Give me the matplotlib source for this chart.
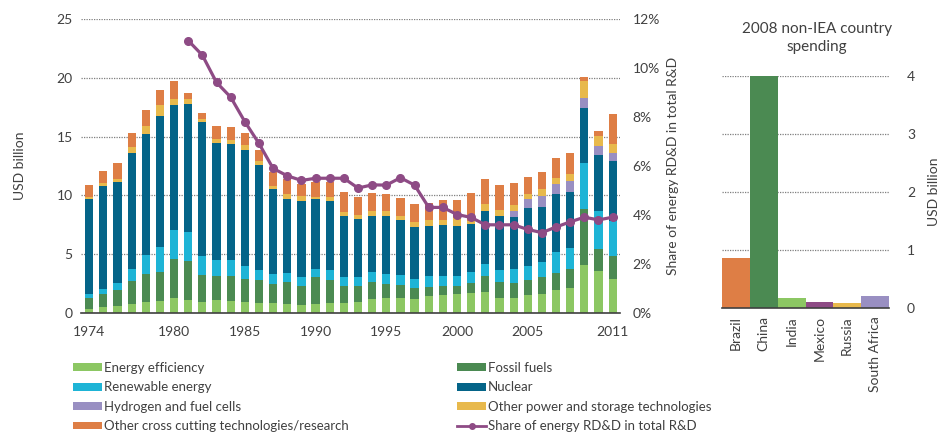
import numpy as np
import matplotlib
matplotlib.use("Agg")
import matplotlib.pyplot as plt
from matplotlib.patches import Patch
from matplotlib.lines import Line2D

plt.rcParams['font.family'] = ['Lato', 'DejaVu Sans']

years = list(range(1974, 2012))
energy_eff = [0.37, 0.51, 0.62, 0.77, 0.91, 0.99, 1.28, 1.08, 0.91, 1.08, 1.02, 0.97, 0.85, 0.85,
              0.74, 0.65, 0.74, 0.85, 0.85, 0.91, 1.22, 1.28, 1.28, 1.19, 1.42, 1.53, 1.59, 1.70,
              1.76, 1.31, 1.31, 1.53, 1.65, 1.93, 2.16, 4.06, 3.58, 2.90]
fossil = [0.91, 1.08, 1.34, 1.93, 2.41, 2.50, 3.29, 3.32, 2.30, 2.07, 2.11, 1.90, 1.93, 1.65,
          1.87, 1.68, 2.30, 1.99, 1.42, 1.36, 1.42, 1.22, 1.13, 0.94, 0.80, 0.77, 0.71, 0.86,
          1.42, 1.33, 1.25, 1.25, 1.42, 1.48, 1.62, 4.75, 1.82, 1.93]
renewable = [0.37, 0.43, 0.60, 1.08, 1.59, 2.14, 2.53, 2.45, 1.62, 1.34, 1.36, 1.11, 0.86, 0.80,
             0.80, 0.74, 0.74, 0.80, 0.80, 0.80, 0.85, 0.85, 0.80, 0.80, 0.91, 0.88, 0.83, 0.93,
             0.97, 1.00, 1.22, 1.22, 1.25, 1.79, 1.76, 3.92, 3.29, 3.01]
nuclear = [8.01, 8.78, 8.54, 9.82, 10.29, 11.16, 10.57, 10.93, 11.39, 9.94, 9.91, 9.91, 8.92, 7.21,
           6.31, 6.45, 5.94, 5.88, 5.17, 4.94, 4.75, 4.89, 4.69, 4.40, 4.28, 4.32, 4.31, 4.12,
           4.54, 4.60, 4.37, 4.89, 4.71, 4.91, 4.77, 4.74, 4.75, 5.09]
hydrogen = [0, 0, 0, 0, 0, 0, 0, 0, 0, 0, 0, 0, 0, 0,
            0, 0, 0, 0, 0, 0, 0, 0, 0, 0, 0, 0, 0, 0,
            0, 0, 0.51, 0.80, 0.91, 0.86, 0.91, 0.85, 0.76, 0.65]
other_power = [0.23, 0.22, 0.30, 0.55, 0.68, 0.91, 0.53, 0.40, 0.31, 0.40, 0.34, 0.40, 0.34, 0.31,
               0.39, 0.39, 0.17, 0.31, 0.31, 0.29, 0.45, 0.40, 0.34, 0.45, 0.49, 0.45, 0.60, 0.23,
               0.57, 0.51, 0.52, 0.45, 0.57, 0.48, 0.60, 1.45, 0.86, 0.80]
cross_cutting = [0.99, 1.05, 1.38, 1.19, 1.39, 1.28, 1.54, 0.51, 0.46, 1.05, 1.06, 1.02, 0.99, 1.14,
                 1.25, 1.06, 1.27, 1.33, 1.73, 1.59, 1.48, 1.47, 1.50, 1.48, 1.48, 1.65, 1.56, 2.33,
                 2.10, 2.13, 1.90, 1.45, 1.48, 1.70, 1.76, 0.34, 0.42, 2.52]
share_years = list(range(1981, 2012))
share_pct = [11.12, 10.52, 9.41, 8.81, 7.81, 6.92, 5.90, 5.60, 5.41, 5.50, 5.50, 5.50, 5.10, 5.23,
             5.22, 5.52, 5.22, 4.31, 4.31, 4.02, 3.90, 3.60, 3.60, 3.60, 3.41, 3.28, 3.51, 3.72,
             3.91, 3.80, 3.91]
xtick_years = [1974, 1980, 1985, 1990, 1995, 2000, 2005, 2011]

countries = ["Brazil", "China", "India", "Mexico", "Russia", "South Africa"]
country_spend = [0.86, 4.0, 0.18, 0.10, 0.08, 0.21]

series = [
    ("Energy efficiency", energy_eff, "#8CC763"),
    ("Fossil fuels", fossil, "#4B8A52"),
    ("Renewable energy", renewable, "#1EB4D6"),
    ("Nuclear", nuclear, "#046488"),
    ("Hydrogen and fuel cells", hydrogen, "#998FC2"),
    ("Other power and storage technologies", other_power, "#E8B94C"),
    ("Other cross cutting technologies/research", cross_cutting, "#DE7E45"),
]
country_colors = ["#DE7E45", "#4B8A52", "#8CC763", "#8E4B85", "#E8B94C", "#998FC2"]
line_color = "#8E4B85"
grid_color = "#7F7F7F"
text_color = "#404040"

W, H = 941, 438
fig = plt.figure(figsize=(W / 100, H / 100), dpi=100)

def ax_rect(x0, y0, x1, y1):
    return [x0 / W, 1 - y1 / H, (x1 - x0) / W, (y1 - y0) / H]

ax = fig.add_axes(ax_rect(81, 19, 620, 313))
x = np.arange(len(years))
bottom = np.zeros(len(years))
handles = {}
for name, vals, col in series:
    v = np.array(vals)
    ax.bar(x, v, 0.58, bottom=bottom, color=col, linewidth=0, zorder=2)
    handles[name] = Patch(facecolor=col)
    bottom += v
ax.set_xlim(-0.58, len(years) - 0.48)
ax.set_ylim(0, 25)
ax.set_yticks([0, 5, 10, 15, 20, 25])
ax.set_xticks([years.index(y) for y in xtick_years])
ax.set_xticklabels([str(y) for y in xtick_years])
for s in ["top", "right", "left"]:
    ax.spines[s].set_visible(False)
ax.spines["bottom"].set_color("#404040")
ax.spines["bottom"].set_linewidth(1.2)
ax.tick_params(axis="both", length=0, labelsize=10, colors=text_color, pad=6)
ax.tick_params(axis="x", pad=9)
ax.yaxis.grid(True, linestyle=(0, (1, 1)), color=grid_color, linewidth=0.9, zorder=0)
ax.set_axisbelow(True)
ax.set_ylabel("USD billion", fontsize=10, color=text_color, labelpad=22)

ax2 = ax.twinx()
ax2.set_ylim(0, 12)
ax2.set_yticks([0, 2, 4, 6, 8, 10, 12])
ax2.set_yticklabels([f"{v}%" for v in [0, 2, 4, 6, 8, 10, 12]])
for s in ["top", "right", "left", "bottom"]:
    ax2.spines[s].set_visible(False)
ax2.tick_params(axis="y", length=0, labelsize=10, colors=text_color, pad=9)
sx = [years.index(y) for y in share_years]
ax2.plot(sx, share_pct, color=line_color, linewidth=2.3, marker="o", markersize=5.5, zorder=5)
ax2.set_ylabel("Share of energy RD&D in total R&D", fontsize=10, color=text_color, labelpad=5)

# right chart
axr = fig.add_axes(ax_rect(722, 76, 889, 308))
xc = np.arange(len(countries))
axr.bar(xc, country_spend, 1.0, color=country_colors, linewidth=0, zorder=2)
axr.set_xlim(-0.5, len(countries) - 0.5)
axr.set_ylim(0, 4)
axr.set_yticks([0, 1, 2, 3, 4])
axr.yaxis.tick_right()
axr.yaxis.set_label_position("right")
axr.set_xticks(xc)
axr.set_xticklabels(countries, rotation=90)
for s in ["top", "right", "left"]:
    axr.spines[s].set_visible(False)
axr.spines["bottom"].set_color("#404040")
axr.spines["bottom"].set_linewidth(1.2)
axr.tick_params(axis="both", length=0, labelsize=10, colors=text_color)
axr.tick_params(axis="y", pad=13)
axr.tick_params(axis="x", pad=6)
axr.yaxis.grid(True, linestyle=(0, (1, 1)), color=grid_color, linewidth=0.9, zorder=0)
axr.set_axisbelow(True)
axr.set_ylabel("USD billion", fontsize=10, color=text_color, labelpad=9)
fig.text(817 / W, 1 - 38 / H, "2008 non-IEA country\nspending", ha="center", va="center",
         fontsize=11, color=text_color, linespacing=1.35)

# legends
col1 = ["Energy efficiency", "Renewable energy", "Hydrogen and fuel cells",
        "Other cross cutting technologies/research"]
col2 = ["Fossil fuels", "Nuclear", "Other power and storage technologies"]
common = dict(loc="upper left", frameon=False, fontsize=9.5, handlelength=2.2,
              handleheight=0.55, handletextpad=0.15, labelspacing=0.56, borderaxespad=0,
              borderpad=0, labelcolor=text_color)
leg1 = fig.legend([handles[n] for n in col1], col1, bbox_to_anchor=(73 / W, 1 - 362 / H), **common)
line_handle = Line2D([], [], color=line_color, linewidth=2, marker="o", markersize=4)
leg2 = fig.legend([handles[n] for n in col2] + [line_handle],
                  col2 + ["Share of energy RD&D in total R&D"],
                  bbox_to_anchor=(457 / W, 1 - 362 / H), **common)

fig.savefig("out.png", dpi=100)
